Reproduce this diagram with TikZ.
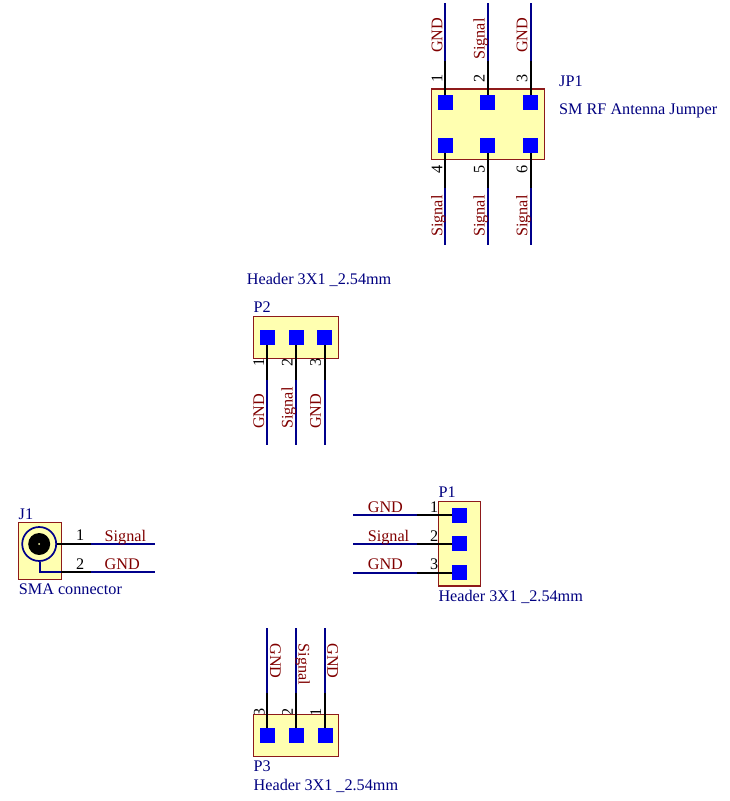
\documentclass[tikz,border=0pt]{standalone}
\usepackage{fontspec}
\setmainfont{Liberation Serif}
\usetikzlibrary{positioning}
\definecolor{bodyfill}{HTML}{FFFFB0}
\definecolor{bodyline}{HTML}{8E1A1A}
\definecolor{wireblue}{HTML}{00008B}
\definecolor{netred}{HTML}{800000}
\definecolor{refblue}{HTML}{000080}

\begin{document}
\begin{tikzpicture}[
    x = 1pt, y = -1pt,
    body/.style = {rectangle, draw=bodyline, fill=bodyfill, line width=1.1pt, inner sep=0pt},
    pad/.style = {rectangle, fill=blue, minimum size=15pt, inner sep=0pt},
    pin/.style = {draw=black, line width=1.7pt},
    wire/.style = {draw=wireblue, line width=1.7pt},
    lbl/.style = {font=\fontsize{16.2}{16.2}\selectfont, inner sep=0pt, anchor=base west},
    net/.style = {lbl, text=netred},
    ref/.style = {lbl, text=refblue},
    num/.style = {lbl, text=black},
    up/.style = {rotate=90},
    down/.style = {rotate=-90}
]
\useasboundingbox (0,0) rectangle (730,801);

% Define nodes
% JP1
\node[body, minimum width=113pt, minimum height=70.7pt] (jpbody) at (488,124.3) {};
\node[pad] (jpa) at (445,102.7) {};
\node[pad, right=27.5pt of jpa] (jpb) {};
\node[pad, right=27.5pt of jpb] (jpc) {};
\node[pad] (jpd) at (445,145.3) {};
\node[pad, right=27.5pt of jpd] (jpe) {};
\node[pad, right=27.5pt of jpe] (jpf) {};

% P2
\node[body, minimum width=85pt, minimum height=41.6pt] (ptwobody) at (295.8,337.5) {};
\node[pad] (ptwoa) at (267.2,337.4) {};
\node[pad, right=13.4pt of ptwoa] (ptwob) {};
\node[pad, right=13.4pt of ptwob] (ptwoc) {};

% P1
\node[body, minimum width=42pt, minimum height=84.3pt] (ponebody) at (459.7,543.8) {};
\node[pad] (ponea) at (459.8,515) {};
\node[pad, below=13.5pt of ponea] (poneb) {};
\node[pad, below=13.5pt of poneb] (ponec) {};

% J1
\node[body, minimum width=42.7pt, minimum height=56.6pt] (jonebody) at (39.7,551) {};
\node[circle, draw=wireblue, line width=1.7pt, minimum size=34pt, inner sep=0pt] (jonering) at (39.2,544) {};
\node[circle, fill=black, minimum size=22pt, inner sep=0pt] (jonecore) at (39.2,544) {};
\node[circle, fill=bodyfill, minimum size=2pt, inner sep=0pt] (jonedot) at (39.2,544) {};

% P3 numbers go under the body
\node[num, up] (pthreenumc) at (264.5,716.3) {3};
\node[num, up] (pthreenumb) at (292.8,716.3) {2};
\node[num, up] (pthreenuma) at (321.2,716.3) {1};
\node[body, minimum width=85pt, minimum height=42.4pt] (pthreebody) at (295.8,735.5) {};
\node[pad] (pthreec) at (267.2,735.7) {};
\node[pad, right=13.5pt of pthreec] (pthreeb) {};
\node[pad, right=13.5pt of pthreeb] (pthreea) {};

% Wire ends
\coordinate[above=34pt of jpa] (jpak);
\coordinate[above=34pt of jpb] (jpbk);
\coordinate[above=34pt of jpc] (jpck);
\coordinate[above=92pt of jpa] (jpaw);
\coordinate[above=92pt of jpb] (jpbw);
\coordinate[above=92pt of jpc] (jpcw);
\coordinate[below=35pt of jpd] (jpdk);
\coordinate[below=35pt of jpe] (jpek);
\coordinate[below=35pt of jpf] (jpfk);
\coordinate[below=92pt of jpd] (jpdw);
\coordinate[below=92pt of jpe] (jpew);
\coordinate[below=92pt of jpf] (jpfw);
\coordinate[below=35pt of ptwoa] (ptwoak);
\coordinate[below=35pt of ptwob] (ptwobk);
\coordinate[below=35pt of ptwoc] (ptwock);
\coordinate[below=100pt of ptwoa] (ptwoaw);
\coordinate[below=100pt of ptwob] (ptwobw);
\coordinate[below=100pt of ptwoc] (ptwocw);
\coordinate[left=35pt of ponea] (poneak);
\coordinate[left=35pt of poneb] (ponebk);
\coordinate[left=35pt of ponec] (poneck);
\coordinate[left=99.5pt of ponea] (poneaw);
\coordinate[left=99.5pt of poneb] (ponebw);
\coordinate[left=99.5pt of ponec] (ponecw);
\coordinate[above=35pt of pthreea] (pthreeak);
\coordinate[above=35pt of pthreeb] (pthreebk);
\coordinate[above=35pt of pthreec] (pthreeck);
\coordinate[above=100pt of pthreea] (pthreeaw);
\coordinate[above=100pt of pthreeb] (pthreebw);
\coordinate[above=100pt of pthreec] (pthreecw);
\coordinate (jonekone) at (90.7,544);
\coordinate (jonewone) at (155,544);
\coordinate (jonebend) at (40,572);
\coordinate (jonestart) at (61,572);
\coordinate (jonektwo) at (90.7,572);
\coordinate (jonewtwo) at (155,572);

% Draw wires
\draw[pin] (jpa) -- (jpak);
\draw[pin] (jpb) -- (jpbk);
\draw[pin] (jpc) -- (jpck);
\draw[wire] (jpak) -- (jpaw);
\draw[wire] (jpbk) -- (jpbw);
\draw[wire] (jpck) -- (jpcw);
\draw[pin] (jpd) -- (jpdk);
\draw[pin] (jpe) -- (jpek);
\draw[pin] (jpf) -- (jpfk);
\draw[wire] (jpdk) -- (jpdw);
\draw[wire] (jpek) -- (jpew);
\draw[wire] (jpfk) -- (jpfw);
\draw[pin] (ptwoa) -- (ptwoak);
\draw[pin] (ptwob) -- (ptwobk);
\draw[pin] (ptwoc) -- (ptwock);
\draw[wire] (ptwoak) -- (ptwoaw);
\draw[wire] (ptwobk) -- (ptwobw);
\draw[wire] (ptwock) -- (ptwocw);
\draw[pin] (ponea) -- (poneak);
\draw[pin] (poneb) -- (ponebk);
\draw[pin] (ponec) -- (poneck);
\draw[wire] (poneak) -- (poneaw);
\draw[wire] (ponebk) -- (ponebw);
\draw[wire] (poneck) -- (ponecw);
\draw[pin] (pthreea) -- (pthreeak);
\draw[pin] (pthreeb) -- (pthreebk);
\draw[pin] (pthreec) -- (pthreeck);
\draw[wire] (pthreeak) -- (pthreeaw);
\draw[wire] (pthreebk) -- (pthreebw);
\draw[wire] (pthreeck) -- (pthreecw);
\draw[pin] (jonering) -- (jonekone);
\draw[wire] (jonekone) -- (jonewone);
\draw[wire] (jonering.south -| jonebend) -- (jonebend) -- (jonestart);
\draw[pin] (jonestart) -- (jonektwo);
\draw[wire] (jonektwo) -- (jonewtwo);

% Labels
\node[net, up] (jpneta) at (442.3,53) {GND};
\node[net, up] (jpnetb) at (484.7,60) {Signal};
\node[net, up] (jpnetc) at (527.3,53) {GND};
\node[num, up] (jpnuma) at (442.3,83) {1};
\node[num, up] (jpnumb) at (484.7,83) {2};
\node[num, up] (jpnumc) at (527.3,83) {3};
\node[num, up] (jpnumd) at (442.3,174) {4};
\node[num, up] (jpnume) at (484.7,174) {5};
\node[num, up] (jpnumf) at (527.3,174) {6};
\node[net, up] (jpnetd) at (442.3,237) {Signal};
\node[net, up] (jpnete) at (484.7,237) {Signal};
\node[net, up] (jpnetf) at (527.3,237) {Signal};
\node[ref] (jpref) at (559,86) {JP1};
\node[ref] (jpname) at (559,114) {SM RF Antenna Jumper};

\node[ref] (ptwoname) at (246.7,284.3) {Header 3X1 \_2.54mm};
\node[ref] (ptworef) at (253.5,312.7) {P2};
\node[num, up] (ptwonuma) at (264,367) {1};
\node[num, up] (ptwonumb) at (292.5,367) {2};
\node[num, up] (ptwonumc) at (320.8,367) {3};
\node[net, up] (ptwoneta) at (264,429) {GND};
\node[net, up] (ptwonetb) at (292.5,429) {Signal};
\node[net, up] (ptwonetc) at (320.8,429) {GND};

\node[net] (poneneta) at (367.6,512.3) {GND};
\node[net] (ponenetb) at (367.6,541) {Signal};
\node[net] (ponenetc) at (367.6,569) {GND};
\node[num, anchor=base east] (ponenuma) at (438.5,512.3) {1};
\node[num, anchor=base east] (ponenumb) at (438.5,541) {2};
\node[num, anchor=base east] (ponenumc) at (438.5,569) {3};
\node[ref] (poneref) at (438.5,497.3) {P1};
\node[ref] (ponename) at (438.3,601.5) {Header 3X1 \_2.54mm};

\node[ref] (joneref) at (18.5,519.3) {J1};
\node[num] (jonenuma) at (76,540.7) {1};
\node[num] (jonenumb) at (76,569) {2};
\node[net] (jonenetone) at (104.5,541) {Signal};
\node[net] (jonenettwo) at (104.5,569) {GND};
\node[ref] (jonename) at (18.7,594) {SMA connector};

\node[net, down] (pthreenetc) at (270.2,643.3) {GND};
\node[net, down] (pthreenetb) at (298.6,643.3) {Signal};
\node[net, down] (pthreeneta) at (327.3,643.3) {GND};
\node[ref] (pthreeref) at (253.5,771.7) {P3};
\node[ref] (pthreename) at (253.5,790) {Header 3X1 \_2.54mm};

\end{tikzpicture}
\end{document}
